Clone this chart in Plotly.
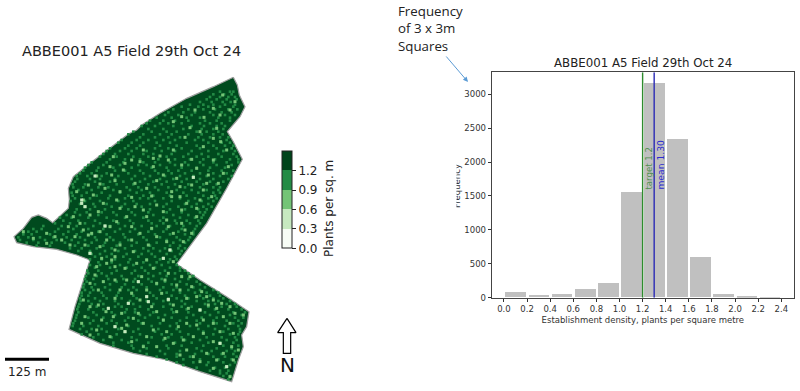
import plotly.graph_objects as go

# ---- histogram data ----
BIN_CENTRES = [0.1, 0.3, 0.5, 0.7, 0.9, 1.1, 1.3, 1.5, 1.7, 1.9, 2.1, 2.3]
BIN_COUNTS = [80, 35, 45, 120, 215, 1560, 3160, 2340, 590, 55, 20, 5]
X_TICKS = [0.0, 0.2, 0.4, 0.6, 0.8, 1.0, 1.2, 1.4, 1.6, 1.8, 2.0, 2.2, 2.4]
Y_TICKS = [0, 500, 1000, 1500, 2000, 2500, 3000]
TARGET = 1.2
MEAN = 1.30

# ---- map data (local field grid, y grows southwards) ----
FIELD_X = [700, 712, 718, 735, 720, 682, 700, 727, 680, 620, 530, 600, 680, 747, 740, 725, 730, 715, 695,
           600, 500, 400, 300, 207, 225, 250, 270, 230, 170, 100, 50, 42, 70, 95, 115, 140, 158, 205, 208,
           205, 220, 270, 330, 385, 410, 425, 480, 560, 640, 700]
FIELD_Y = [52, 75, 105, 140, 170, 215, 245, 298, 385, 490, 612, 660, 710, 755, 800, 825, 860, 900, 965,
           935, 900, 880, 850, 808, 740, 660, 600, 585, 568, 560, 548, 530, 505, 472, 465, 475, 488, 445, 420,
           385, 350, 310, 265, 222, 210, 195, 160, 115, 80, 52]

BRIGHT_X = [440, 445, 505, 245, 255, 315, 270, 385, 375, 345, 325, 415, 510, 600, 660, 680, 285, 580, 490, 245]
BRIGHT_Y = [710, 725, 718, 430, 440, 498, 580, 730, 815, 800, 745, 665, 570, 750, 850, 920, 348, 352, 595, 420]

LOW_X = [705, 668, 640, 585, 612, 570, 520, 660, 690, 545, 640, 662, 555, 480, 610, 575, 520, 430, 395, 340, 680,
         290, 335, 370, 460, 490, 580, 625, 685, 265, 315, 360, 440, 515, 540, 610, 655, 250,
         245, 255, 310, 350, 405, 470, 515, 560, 600, 635, 220, 270, 330, 315, 380, 440, 500, 545, 590, 275, 265,
         70, 140, 185, 225, 320, 360, 420, 470, 520, 555, 270, 305, 345, 400, 440, 490, 510, 140,
         285, 320, 345, 380, 415, 440, 425, 505, 470, 545, 575, 620, 295, 360, 540, 505,
         440, 445, 505, 270, 325, 318, 385, 400, 380, 365, 470, 530, 590, 600, 650, 690, 730, 255, 560, 610, 670,
         375, 345, 290, 440, 500, 520, 580, 640, 660, 700, 715, 620, 560, 470, 680, 650, 600, 690,
         330, 375, 420, 460, 505, 545, 590, 640, 670, 300, 345, 405, 470, 530, 575, 620, 230, 280, 395, 455, 540,
         590, 545, 490, 430, 360, 295, 240, 205, 250, 300, 350, 395, 455, 505, 575, 100, 165, 210, 255, 300, 345,
         395, 445, 500, 550, 290, 335, 375, 410, 460, 520, 495, 530, 570, 270, 310, 345, 395, 420, 455, 485, 560,
         640, 605, 250, 295, 345, 365, 415, 490, 520, 565, 625, 665, 705, 245, 305, 340, 430, 460, 535, 590, 640,
         690, 270, 330, 395, 430, 495, 550, 610, 660, 695, 540, 580, 640, 670, 700, 600, 650, 700]
LOW_Y = [125, 105, 145, 150, 172, 203, 185, 165, 150, 170, 235, 245, 232, 288, 260, 298, 270, 270, 300, 290, 270,
         348, 345, 330, 320, 345, 352, 345, 320, 375, 385, 395, 385, 395, 380, 390, 370, 420,
         430, 440, 430, 420, 440, 435, 410, 430, 420, 410, 470, 465, 500, 498, 470, 470, 480, 490, 470, 520, 525,
         515, 520, 540, 530, 540, 555, 520, 530, 520, 510, 580, 595, 590, 575, 600, 595, 570, 550,
         645, 610, 620, 660, 665, 690, 650, 640, 670, 650, 680, 710, 690, 690, 690, 720,
         710, 725, 718, 740, 745, 755, 730, 775, 795, 805, 755, 755, 710, 750, 745, 740, 765, 770, 790, 780, 770,
         815, 800, 810, 830, 815, 850, 830, 845, 850, 820, 870, 880, 870, 860, 920, 900, 905, 950,
         320, 310, 305, 295, 300, 315, 325, 300, 340, 372, 362, 370, 362, 355, 375, 370, 395, 405, 412, 408, 410,
         445, 450, 455, 450, 445, 455, 490, 500, 510, 515, 485, 500, 505, 500, 520, 535, 530, 555, 555, 560, 570,
         540, 555, 545, 545, 620, 600, 625, 610, 625, 605, 660, 675, 650, 670, 665, 660, 700, 720, 740, 700, 715,
         720, 695, 720, 735, 715, 760, 760, 780, 735, 745, 735, 730, 760, 790, 780, 770, 790, 810, 800, 795, 790,
         790, 825, 830, 845, 860, 835, 840, 820, 815, 860, 885, 890, 925, 880, 900, 215, 205, 220]

MED_ROWS = [
    (95, [660, 690, 700]), (118, [620, 650, 680, 710]), (140, [545, 595, 625, 660, 700]),
    (165, [495, 535, 575, 640, 675, 705]), (190, [440, 480, 505, 545, 600, 630, 665]),
    (215, [400, 455, 500, 530, 590, 620, 655]), (240, [365, 410, 445, 490, 525, 585, 610, 680]),
    (265, [330, 375, 410, 465, 505, 545, 600, 650, 695]), (290, [300, 350, 400, 445, 500, 550, 590, 625, 665, 710]),
    (315, [265, 310, 360, 415, 440, 480, 525, 565, 610, 650, 695]),
    (340, [240, 275, 320, 385, 430, 475, 515, 555, 600, 640, 680]),
    (365, [225, 285, 330, 370, 420, 460, 500, 545, 590, 630, 670]),
    (390, [235, 275, 340, 390, 425, 475, 530, 575, 620, 655]),
    (415, [225, 270, 325, 375, 420, 445, 490, 540, 585, 625, 650]),
    (440, [205, 285, 335, 365, 425, 490, 535, 575, 610, 635]),
    (465, [200, 240, 295, 350, 405, 460, 520, 565, 610]),
    (490, [165, 210, 255, 300, 355, 400, 455, 490, 530, 570, 600]),
    (515, [85, 110, 165, 205, 245, 295, 345, 390, 445, 490, 535, 580]),
    (540, [60, 100, 135, 170, 215, 255, 290, 340, 385, 440, 500, 540, 565]),
    (565, [210, 245, 290, 335, 375, 430, 460, 495, 535, 555]),
    (590, [285, 320, 370, 415, 465, 525]), (615, [270, 300, 360, 400, 450, 485, 530, 550]),
    (640, [265, 305, 335, 395, 445, 480, 525, 565]), (665, [260, 310, 350, 400, 455, 495, 540, 590, 610]),
    (690, [255, 280, 330, 385, 410, 480, 520, 565, 600, 640]),
    (715, [240, 285, 320, 365, 410, 470, 530, 565, 610, 640, 670]),
    (740, [235, 290, 345, 365, 420, 490, 545, 575, 625, 665, 710]),
    (765, [230, 290, 345, 420, 450, 495, 580, 630, 690, 725]),
    (790, [220, 270, 320, 350, 425, 480, 530, 600, 650, 700, 725]),
    (815, [260, 320, 400, 465, 540, 610, 670, 720]), (840, [310, 365, 410, 490, 555, 600, 680, 710]),
    (865, [400, 440, 505, 590, 650, 695]), (890, [470, 530, 570, 640, 675, 710]), (915, [550, 620, 690]),
    (940, [660, 680]),
    (103, [640, 672, 695]), (126, [600, 635, 668, 692]), (148, [520, 565, 610, 645, 685, 712]),
    (173, [470, 515, 560, 600, 655, 690]), (198, [425, 465, 520, 575, 612, 650, 675]),
    (223, [385, 430, 480, 515, 565, 605, 640, 668]), (248, [355, 395, 430, 470, 510, 560, 625, 665, 690]),
    (273, [320, 360, 395, 440, 485, 525, 575, 625, 670, 705]),
    (298, [285, 330, 375, 420, 475, 525, 570, 610, 645, 690, 715]),
    (323, [255, 295, 340, 395, 455, 500, 545, 590, 630, 675]),
    (348, [230, 262, 305, 355, 405, 450, 495, 540, 580, 620, 660, 695]),
    (373, [218, 255, 310, 350, 400, 445, 485, 525, 565, 610, 650]),
    (398, [215, 260, 305, 360, 410, 450, 500, 550, 595, 640, 660]),
    (423, [212, 255, 300, 355, 400, 465, 515, 565, 605, 640]),
    (448, [195, 230, 270, 315, 385, 450, 510, 555, 595, 620]),
    (473, [180, 215, 265, 320, 375, 430, 490, 540, 585, 605]),
    (498, [130, 185, 230, 280, 330, 375, 425, 470, 510, 550, 590]),
    (523, [70, 95, 150, 190, 230, 275, 320, 370, 415, 465, 510, 555, 580]),
    (548, [80, 115, 155, 195, 235, 275, 315, 360, 410, 470, 520, 555]),
    (573, [235, 270, 315, 355, 405, 445, 480, 515, 545]), (598, [270, 305, 345, 390, 440, 480, 510, 530]),
    (623, [262, 285, 330, 380, 425, 465, 510, 540, 570]), (648, [258, 290, 320, 365, 415, 460, 500, 545, 580]),
    (673, [252, 285, 330, 375, 425, 470, 515, 560, 600, 635]),
    (698, [245, 270, 305, 355, 395, 450, 500, 540, 585, 620, 655]),
    (723, [242, 265, 300, 345, 390, 440, 490, 545, 590, 625, 655, 690]),
    (748, [232, 265, 310, 380, 405, 445, 515, 560, 600, 645, 685, 725]),
    (773, [228, 265, 310, 385, 435, 475, 515, 560, 605, 650, 705, 730]),
    (798, [218, 250, 295, 385, 455, 510, 570, 625, 675, 715]),
    (823, [245, 295, 350, 420, 485, 515, 565, 640, 690, 715]),
    (848, [285, 340, 385, 445, 525, 575, 625, 660, 700]), (873, [375, 420, 480, 540, 605, 635, 680, 705]),
    (898, [500, 550, 600, 655, 695]), (923, [590, 645, 675]), (948, [670, 690]),
    (111, [630, 660, 685, 705]), (134, [570, 610, 640, 675, 705]), (157, [505, 550, 585, 630, 665, 695]),
    (182, [450, 490, 525, 565, 615, 650, 690]), (207, [410, 445, 490, 550, 605, 640, 670]),
    (232, [370, 420, 465, 505, 540, 595, 630, 660, 685]), (257, [340, 385, 420, 480, 530, 590, 640, 675, 700]),
    (282, [310, 345, 385, 430, 460, 515, 565, 605, 655, 700]),
    (307, [275, 320, 370, 430, 465, 510, 555, 600, 640, 680, 715]),
    (332, [250, 290, 345, 375, 420, 465, 505, 535, 575, 625, 665, 700]),
    (357, [232, 270, 300, 345, 395, 435, 480, 520, 560, 600, 640, 685]),
    (382, [220, 250, 295, 325, 380, 415, 465, 505, 555, 600, 640, 660]),
    (407, [218, 245, 290, 330, 385, 430, 460, 510, 560, 610, 645]),
    (432, [205, 240, 280, 320, 375, 410, 450, 500, 555, 590, 625]),
    (457, [190, 225, 260, 305, 340, 395, 445, 500, 545, 600, 615]),
    (482, [150, 190, 235, 285, 340, 390, 445, 480, 525, 560, 595]),
    (507, [100, 125, 175, 220, 265, 310, 360, 405, 455, 500, 545, 585]),
    (532, [55, 85, 120, 160, 200, 240, 285, 330, 375, 430, 480, 530, 570]),
    (557, [110, 150, 225, 265, 310, 350, 395, 450, 510, 540]), (582, [275, 300, 335, 380, 425, 455, 500, 540]),
    (607, [265, 295, 335, 385, 430, 470, 505, 540, 560]), (632, [262, 295, 350, 405, 435, 495, 540, 555]),
    (657, [255, 280, 325, 370, 405, 445, 485, 525, 565, 600]),
    (682, [250, 275, 315, 365, 400, 440, 490, 530, 580, 615]),
    (707, [245, 265, 310, 350, 400, 460, 515, 555, 600, 630, 660]),
    (732, [238, 275, 310, 355, 400, 460, 510, 555, 615, 645, 680, 705]),
    (757, [235, 280, 335, 375, 405, 460, 520, 565, 615, 655, 700, 735]),
    (782, [225, 280, 335, 375, 415, 490, 540, 590, 640, 680, 715]),
    (807, [240, 275, 305, 355, 415, 475, 530, 595, 645, 685, 720]),
    (832, [280, 335, 395, 455, 505, 545, 620, 665, 705]), (857, [340, 395, 430, 500, 545, 610, 670, 715]),
    (882, [440, 495, 530, 585, 625, 665, 700]), (907, [530, 580, 625, 670, 705]), (932, [630, 660, 685]),
    (958, [685]),
]

DENSITY_BRIGHT = 0.45
DENSITY_LOW = 0.75
DENSITY_MED = 1.05
CBAR_TICKS = [0.0, 0.3, 0.6, 0.9, 1.2]
CBAR_MAX = 1.5
GREENS = ["#f7fcf5", "#c7e9c0", "#74c476", "#238b45", "#00441b"]

SCALE_X = [15, 147]
SCALE_Y = [898, 898]
NORTH_X = [861, 888, 872, 872, 850, 850, 833, 861]
NORTH_Y = [775, 818, 818, 880, 880, 818, 818, 775]

W, H = 800, 391


def inside(px, py):
    """Keep only cells that lie within the field boundary."""
    hit = False
    n = len(FIELD_X) - 1
    for i in range(n):
        x0, y0, x1, y1 = FIELD_X[i], FIELD_Y[i], FIELD_X[i + 1], FIELD_Y[i + 1]
        if (y0 > py) != (y1 > py) and px < x0 + (py - y0) * (x1 - x0) / (y1 - y0):
            hit = not hit
    return hit


def clip(xs, ys):
    kept = [(x, y) for x, y in zip(xs, ys) if inside(x, y)]
    return [p[0] for p in kept], [p[1] for p in kept]


stepped = []
for i, col in enumerate(GREENS):
    stepped += [[i / len(GREENS), col], [(i + 1) / len(GREENS), col]]

med_x, med_y = clip([x for _, row in MED_ROWS for x in row], [y for y, row in MED_ROWS for _ in row])
low_x, low_y = clip(LOW_X, LOW_Y)
bright_x, bright_y = clip(BRIGHT_X, BRIGHT_Y)

DARK = "#333333"
fig = go.Figure()

# field polygon
fig.add_trace(go.Scatter(x=FIELD_X, y=FIELD_Y, mode="lines", fill="toself", fillcolor="#004a1e",
                         line=dict(color="#a0a0a0", width=1.2), hoverinfo="skip", showlegend=False,
                         xaxis="x", yaxis="y"))
# density cells
fig.add_trace(go.Scatter(x=med_x, y=med_y, mode="markers", showlegend=False, xaxis="x", yaxis="y",
                         marker=dict(symbol="square", size=2.6, color=[DENSITY_MED] * len(med_x),
                                     colorscale=stepped, cmin=0, cmax=CBAR_MAX, line=dict(width=0),
                                     showscale=True,
                                     colorbar=dict(x=282.3 / W, xanchor="left", xpad=0, y=(H - 248.3) / H,
                                                   yanchor="bottom", ypad=0, lenmode="pixels", len=96.6,
                                                   thickness=10, outlinecolor="#222", outlinewidth=1,
                                                   ticks="outside", ticklen=4, tickcolor="#222",
                                                   tickmode="array", tickvals=CBAR_TICKS,
                                                   ticktext=["%.1f" % v for v in CBAR_TICKS],
                                                   tickfont=dict(family="DejaVu Sans", size=12, color="#222")))))
fig.add_trace(go.Scatter(x=low_x, y=low_y, mode="markers", showlegend=False, xaxis="x", yaxis="y",
                         marker=dict(symbol="square", size=3, color=[DENSITY_LOW] * len(low_x),
                                     colorscale=stepped, cmin=0, cmax=CBAR_MAX, line=dict(width=0))))
fig.add_trace(go.Scatter(x=bright_x, y=bright_y, mode="markers", showlegend=False, xaxis="x", yaxis="y",
                         marker=dict(symbol="square", size=3, color=[DENSITY_BRIGHT] * len(bright_x),
                                     colorscale=stepped, cmin=0, cmax=CBAR_MAX, line=dict(width=0))))
# scale bar & north arrow
fig.add_trace(go.Scatter(x=SCALE_X, y=SCALE_Y, mode="lines", line=dict(color="black", width=3),
                         showlegend=False, xaxis="x", yaxis="y"))
fig.add_trace(go.Scatter(x=NORTH_X, y=NORTH_Y, mode="lines", fill="toself", fillcolor="white",
                         line=dict(color="black", width=1.2), showlegend=False, xaxis="x", yaxis="y"))

# histogram
fig.add_trace(go.Bar(x=BIN_CENTRES, y=BIN_COUNTS, width=0.18, marker=dict(color="#c0c0c0", line=dict(width=0)),
                     showlegend=False, xaxis="x2", yaxis="y2"))
fig.add_trace(go.Scatter(x=[TARGET, TARGET], y=[0, 3324], mode="lines", line=dict(color="#2e8b2e", width=1.4),
                         showlegend=False, xaxis="x2", yaxis="y2"))
fig.add_trace(go.Scatter(x=[MEAN, MEAN], y=[0, 3324], mode="lines", line=dict(color="#2a2ab5", width=1.4),
                         showlegend=False, xaxis="x2", yaxis="y2"))

axfont = dict(family="DejaVu Sans", size=8.5, color=DARK)
annotations = [
    dict(text="ABBE001 A5 Field 29th Oct 24", xref="paper", yref="paper", x=131 / W, y=(H - 51) / H,
         xanchor="center", yanchor="middle", showarrow=False, font=dict(family="DejaVu Sans", size=14.5, color="#222")),
    dict(text="Plants per sq. m", xref="paper", yref="paper", x=329 / W, y=(H - 209) / H, textangle=-90,
         xanchor="center", yanchor="middle", showarrow=False, font=dict(family="DejaVu Sans", size=12, color="#222")),
    dict(text="125 m", xref="x", yref="y", x=80, y=937, xanchor="center", yanchor="middle", showarrow=False,
         font=dict(family="DejaVu Sans", size=12, color="#222")),
    dict(text="N", xref="x", yref="y", x=861, y=915, xanchor="center", yanchor="middle", showarrow=False,
         font=dict(family="DejaVu Sans", size=20, color="#111")),
    dict(text="ABBE001 A5 Field 29th Oct 24", xref="paper", yref="paper", x=642.5 / W, y=(H - 63) / H,
         xanchor="center", yanchor="middle", showarrow=False, font=dict(family="DejaVu Sans", size=11.8, color="#222")),
    dict(text="Frequency<br>of 3 x 3m<br>Squares", xref="paper", yref="paper", x=396 / W, y=(H - 28) / H,
         xanchor="left", yanchor="middle", align="left", showarrow=False,
         font=dict(family="Open Sans", size=13.3, color="#222")),
    dict(text="", xref="paper", yref="paper", x=468 / W, y=(H - 82) / H, axref="pixel", ayref="pixel",
         ax=-23, ay=-27, showarrow=True, arrowhead=2, arrowsize=1, arrowwidth=1, arrowcolor="#5b9bd5"),
    dict(text="target 1.2", xref="x2", yref="y2", x=TARGET, xshift=6.5, y=1560, yanchor="bottom", xanchor="center",
         textangle=-90, showarrow=False, font=dict(family="DejaVu Sans", size=8.6, color="#4f8f4f")),
    dict(text="mean 1.30", xref="x2", yref="y2", x=MEAN, xshift=6.5, y=1560, yanchor="bottom", xanchor="center",
         textangle=-90, showarrow=False, font=dict(family="DejaVu Sans", size=9.2, color="#2a2ad0")),
    dict(text="Frequency", xref="paper", yref="paper", x=457 / W, y=(H - 186) / H, xanchor="center", yanchor="middle",
         textangle=-90, showarrow=False, font=dict(family="DejaVu Sans", size=8.5, color=DARK)),
    # the reference cuts the left half of the rotated y label
    dict(text=" ", xref="paper", yref="paper", x=450 / W, y=(H - 186) / H, xanchor="center", yanchor="middle",
         width=10, height=60, bgcolor="white", showarrow=False, font=dict(size=8)),
]

fig.update_layout(
    width=W, height=H, margin=dict(l=0, r=0, t=0, b=0, autoexpand=False), paper_bgcolor="white", plot_bgcolor="white",
    bargap=0, annotations=annotations,
    xaxis=dict(domain=[0, 0.5], range=[0, 1200], visible=False),
    yaxis=dict(domain=[0, 1], range=[993, -180], visible=False),
    xaxis2=dict(domain=[491.7 / W, 794 / W], range=[-0.106, 2.51], anchor="y2", tickmode="array",
                tickvals=X_TICKS, ticktext=["%.1f" % v for v in X_TICKS], ticks="outside", ticklen=3,
                tickcolor=DARK, tickfont=axfont, showgrid=False, zeroline=False, showline=True, mirror=True,
                linecolor="#444", linewidth=1,
                title=dict(text="Establishment density, plants per square metre", font=axfont, standoff=4)),
    yaxis2=dict(domain=[(H - 297.7) / H, (H - 72.3) / H], range=[0, 3324], anchor="x2", tickmode="array",
                tickvals=Y_TICKS, ticks="outside", ticklen=3, tickcolor=DARK, tickfont=axfont, showgrid=False,
                zeroline=False, showline=True, mirror=True, linecolor="#444", linewidth=1),
)
fig.write_html("out.html", post_script="document.body.style.margin='0';", config={"displayModeBar": False})
